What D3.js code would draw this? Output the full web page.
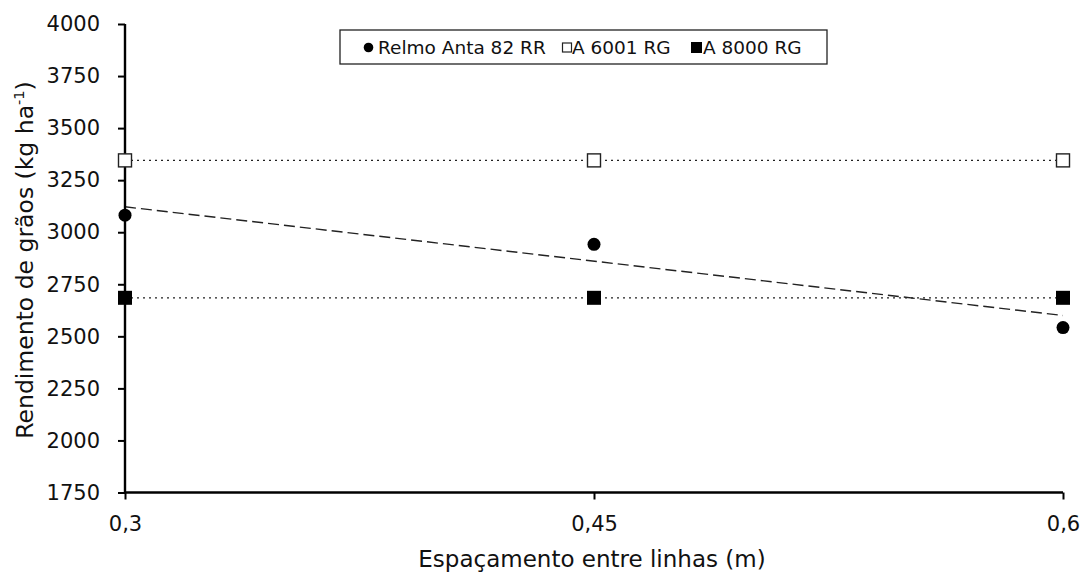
<!DOCTYPE html>
<html><head><meta charset="utf-8">
<script src="https://cdn.jsdelivr.net/npm/d3@7"></script>
<style>body{margin:0;background:#fff}svg{display:block}</style>
</head><body>
<svg id="c" width="1081" height="572"></svg>
<script>
const spacings = [0.3, 0.45, 0.6];
const xTickLabels = ["0,3", "0,45", "0,6"];
const yTicks = [1750, 2000, 2250, 2500, 2750, 3000, 3250, 3500, 3750, 4000];
const relmo = [3082, 2942, 2542];
const a6001 = [3345, 3345, 3345];
const a8000 = [2685, 2685, 2685];
const relmoTrend = [3122, 2600];
const seriesNames = ["Relmo Anta 82 RR", "A 6001 RG", "A 8000 RG"];

const svg = d3.select("#c");
const font = "DejaVu Sans, Verdana, sans-serif";
const x = d3.scaleLinear().domain([0.3, 0.6]).range([125, 1063]);
const y = d3.scaleLinear().domain([1750, 4000]).range([492.5, 24]);

// horizontal mean lines (dotted)
[a6001, a8000].forEach(s => {
  svg.append("path")
    .attr("d", d3.line().x((d, i) => x(spacings[i])).y(d => y(d))(s))
    .attr("fill", "none").attr("stroke", "#222").attr("stroke-width", 1.3)
    .attr("stroke-dasharray", "2,4");
});
// trend line (dashed)
svg.append("path")
  .attr("d", d3.line().x((d, i) => x([0.3, 0.6][i])).y(d => y(d))(relmoTrend))
  .attr("fill", "none").attr("stroke", "#222").attr("stroke-width", 1.4)
  .attr("stroke-dasharray", "11,5");

// axes
const yAxis = d3.axisLeft(y).tickValues(yTicks).tickSize(7).tickPadding(18).tickFormat(d => d);
const gy = svg.append("g").attr("transform", `translate(${x(0.3)},0)`).call(yAxis);
const xAxis = d3.axisBottom(x).tickValues(spacings).tickSize(7).tickPadding(17)
  .tickFormat((d, i) => xTickLabels[i]);
const gx = svg.append("g").attr("transform", `translate(0,${y(1750)})`).call(xAxis);
[gx, gy].forEach(g => {
  g.select(".domain").attr("stroke", "#000").attr("stroke-width", 2.4);
  g.selectAll(".tick line").attr("stroke", "#000").attr("stroke-width", 2);
  g.selectAll("text").attr("font-family", font).attr("font-size", 21).attr("fill", "#111");
});
gx.select(".domain").attr("d", `M${x(0.3)},0H${x(0.6)}`);
gy.select(".domain").attr("d", `M0,${y(4000)}V${y(1750)}`);

// markers
svg.selectAll(".m8000").data(a8000).join("rect")
  .attr("x", (d, i) => x(spacings[i]) - 7).attr("y", d => y(d) - 7)
  .attr("width", 14).attr("height", 14).attr("fill", "#000");
svg.selectAll(".m6001").data(a6001).join("rect")
  .attr("x", (d, i) => x(spacings[i]) - 6.5).attr("y", d => y(d) - 6.5)
  .attr("width", 13).attr("height", 13).attr("fill", "#fff")
  .attr("stroke", "#222").attr("stroke-width", 1.4);
svg.selectAll(".mrelmo").data(relmo).join("circle")
  .attr("cx", (d, i) => x(spacings[i])).attr("cy", d => y(d)).attr("r", 6.5)
  .attr("fill", "#000");

// axis titles
svg.append("text").attr("x", 592).attr("y", 567).attr("text-anchor", "middle")
  .attr("font-family", font).attr("font-size", 23).attr("fill", "#111")
  .text("Espaçamento entre linhas (m)");
const yt = svg.append("text").attr("transform", "translate(33,260) rotate(-90)")
  .attr("text-anchor", "middle").attr("font-family", font).attr("font-size", 23.5).attr("fill", "#111");
yt.append("tspan").text("Rendimento de grãos (kg ha");
yt.append("tspan").attr("dy", -9).attr("font-size", 14.5).text("-1");
yt.append("tspan").attr("dy", 9).text(")");

// legend
const lg = svg.append("g");
lg.append("rect").attr("x", 340).attr("y", 30).attr("width", 487).attr("height", 34)
  .attr("fill", "#fff").attr("stroke", "#222").attr("stroke-width", 1.3);
const lf = 18.5;
lg.append("circle").attr("cx", 368.5).attr("cy", 47.5).attr("r", 4.8).attr("fill", "#000");
lg.append("text").attr("x", 378).attr("y", 54).attr("font-family", font).attr("font-size", lf).attr("fill", "#111").text(seriesNames[0]);
lg.append("rect").attr("x", 562.5).attr("y", 43).attr("width", 9).attr("height", 9)
  .attr("fill", "#fff").attr("stroke", "#222").attr("stroke-width", 1.2);
lg.append("text").attr("x", 572).attr("y", 54).attr("font-family", font).attr("font-size", lf).attr("fill", "#111").text(seriesNames[1]);
lg.append("rect").attr("x", 691).attr("y", 42).attr("width", 11).attr("height", 11).attr("fill", "#000");
lg.append("text").attr("x", 703).attr("y", 54).attr("font-family", font).attr("font-size", lf).attr("fill", "#111").text(seriesNames[2]);
</script>
</body></html>
